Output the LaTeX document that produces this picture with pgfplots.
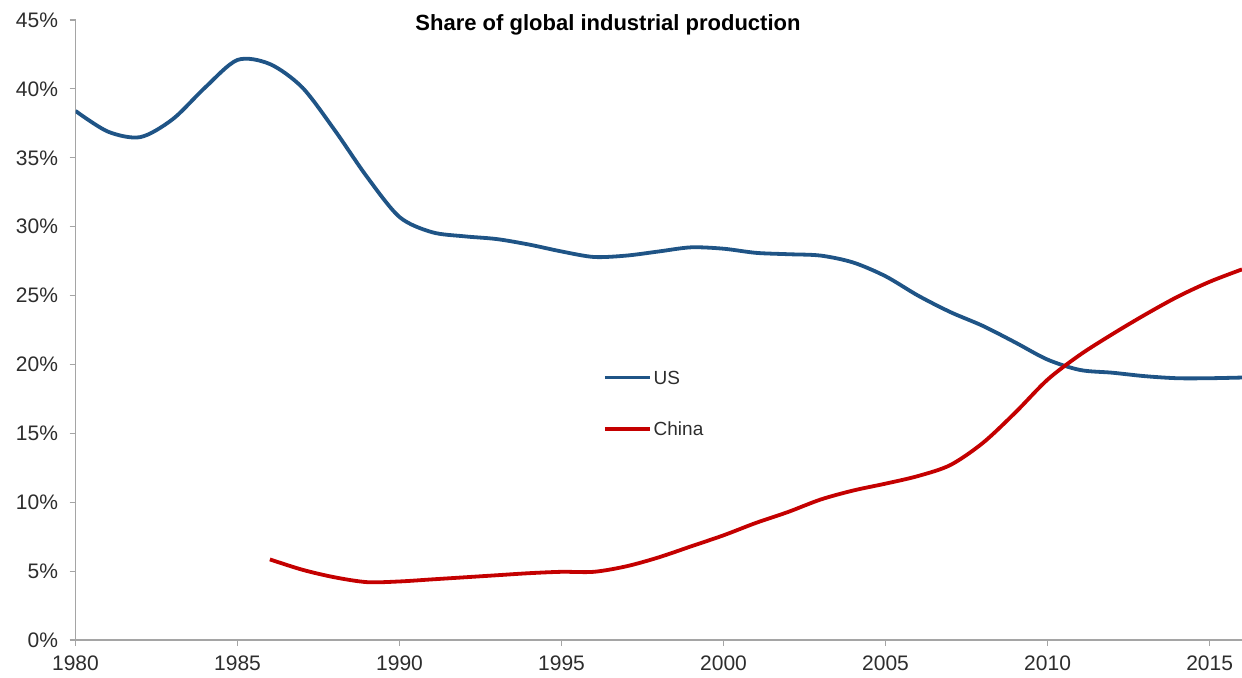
\documentclass[border=0pt]{standalone}
\usepackage{pgfplots}
\pgfplotsset{compat=1.18}
\usepackage{pgfplotstable}
\usepackage{fontspec}
\setmainfont{Liberation Sans}

\definecolor{usblue}{RGB}{31,84,134}
\definecolor{cnred}{RGB}{196,0,0}
\definecolor{axisgray}{RGB}{165,165,165}
\definecolor{labelgray}{RGB}{45,45,45}

% Share of global industrial production, percent
\pgfplotstableread{
year share
1980 38.4
1981 36.9
1982 36.5
1983 37.8
1984 40.1
1985 42.1
1986 41.8
1987 40.1
1988 37.0
1989 33.6
1990 30.7
1991 29.6
1992 29.3
1993 29.1
1994 28.7
1995 28.2
1996 27.8
1997 27.9
1998 28.2
1999 28.5
2000 28.4
2001 28.1
2002 28.0
2003 27.9
2004 27.4
2005 26.4
2006 25.0
2007 23.8
2008 22.8
2009 21.6
2010 20.35
2011 19.6
2012 19.4
2013 19.15
2014 19.0
2015 19.0
2016 19.05
}\usdata

\pgfplotstableread{
year share
1986 5.85
1987 5.1
1988 4.55
1989 4.2
1990 4.25
1991 4.4
1992 4.55
1993 4.7
1994 4.85
1995 4.95
1996 4.95
1997 5.35
1998 6.0
1999 6.8
2000 7.6
2001 8.5
2002 9.3
2003 10.2
2004 10.85
2005 11.35
2006 11.9
2007 12.7
2008 14.3
2009 16.5
2010 18.9
2011 20.7
2012 22.2
2013 23.6
2014 24.9
2015 26.0
2016 26.9
}\cndata

\begin{document}
\begin{tikzpicture}
\begin{axis}[
  scale only axis,
  width=1166.5pt, height=620pt,
  xmin=1980, xmax=2016,
  ymin=0, ymax=45,
  axis x line*=bottom,
  axis y line*=left,
  axis line style={axisgray, line width=1.2pt, -},
  xtick={1980,1985,...,2015},
  ytick={0,5,...,45},
  tick align=outside,
  major tick length=6pt,
  tick style={axisgray, line width=1.2pt},
  /pgf/number format/assume math mode=true,
  xticklabel style={/pgf/number format/1000 sep={}, yshift=-6pt},
  yticklabel style={xshift=-8pt},
  yticklabel={\pgfmathprintnumber{\tick}\%},
  ticklabel style={font=\fontsize{21}{24}\selectfont, text=labelgray},
  title={\textbf{Share of global industrial production}},
  title style={font=\fontsize{22}{24}\selectfont, text=black,
    at={(axis description cs:0.4565,0.974)}, anchor=base, yshift=0pt},
  legend image code/.code={\draw[#1, line width=3.5pt] (0pt,0pt) -- (45pt,0pt);},
  legend cell align=left,
  legend style={draw=none, fill=none, inner sep=0pt,
    at={(axis description cs:0.4522,0.4347)}, anchor=north west,
    row sep=38pt, column sep=2pt,
    font=\fontsize{19}{21}\selectfont,
    nodes={inner sep=0pt, text height=13.5pt, text depth=0pt, text=labelgray}},
]
\addplot[usblue, line width=3.8pt, smooth] table[x=year, y=share] {\usdata};
\addlegendentry{US}
\addplot[cnred, line width=3.8pt, smooth] table[x=year, y=share] {\cndata};
\addlegendentry{China}
\end{axis}
\pgfresetboundingbox
\path ([shift={(-75.5pt,-37pt)}]current axis.south west)
  rectangle ([shift={(0pt,20pt)}]current axis.north east);
\end{tikzpicture}
\end{document}
